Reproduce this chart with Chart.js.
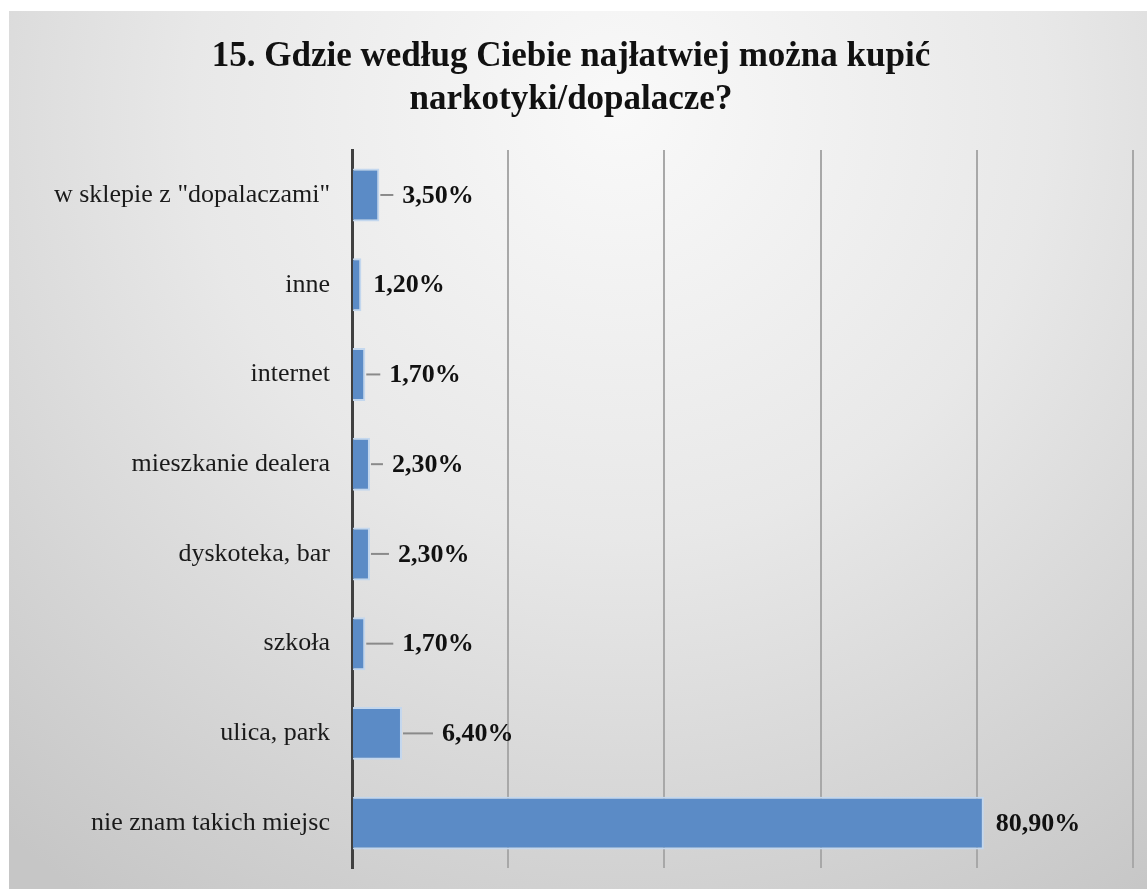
<!DOCTYPE html>
<html>
<head>
<meta charset="utf-8">
<script src="https://cdn.jsdelivr.net/npm/chart.js@4/dist/chart.umd.min.js"></script>
<style>
	html, body { margin: 0; padding: 0; background: #fff; }
	canvas { display: block; }
</style>
</head>
<body>
<canvas id="chart" width="1147" height="889"></canvas>
<script>
const titleLines = ['15. Gdzie według Ciebie najłatwiej można kupić', 'narkotyki/dopalacze?'];
const categories = [
	'w sklepie z "dopalaczami"',
	'inne',
	'internet',
	'mieszkanie dealera',
	'dyskoteka, bar',
	'szkoła',
	'ulica, park',
	'nie znam takich miejsc',
];
const percentages = [3.5, 1.2, 1.7, 2.3, 2.3, 1.7, 6.4, 80.9];
const xTicks = [0, 20, 40, 60, 80, 100];

// pixel gap between bar end and its label (labels were moved by hand in the original)
const labelGap = [23, 12, 24, 22, 28, 37, 40, 12];

const serif = '"Liberation Serif", "Times New Roman", serif';

const backdrop = {
	id: 'backdrop',
	beforeDraw(chart) {
		const { ctx, width, height } = chart;
		ctx.save();
		ctx.fillStyle = '#ffffff';
		ctx.fillRect(0, 0, width, height);
		const g = ctx.createRadialGradient(620, 110, 0, 620, 110, 950);
		g.addColorStop(0, '#f9f9f9');
		g.addColorStop(0.45, '#e8e8e8');
		g.addColorStop(1, '#c6c6c6');
		ctx.fillStyle = g;
		ctx.fillRect(9, 11, width - 9, height - 11);
		ctx.restore();
	},
};

const valueLabels = {
	id: 'valueLabels',
	afterDatasetsDraw(chart) {
		const { ctx } = chart;
		const meta = chart.getDatasetMeta(0);
		ctx.save();
		ctx.font = 'bold 26px ' + serif;
		ctx.fillStyle = '#111';
		ctx.textBaseline = 'middle';
		ctx.textAlign = 'left';
		meta.data.forEach((bar, i) => {
			const gap = labelGap[i];
			const end = bar.x;
			if (gap > 15) {
				ctx.strokeStyle = '#8a8a8a';
				ctx.lineWidth = 2;
				ctx.beginPath();
				ctx.moveTo(end + 1, bar.y);
				ctx.lineTo(end + gap - 9, bar.y);
				ctx.stroke();
			}
			const txt = percentages[i].toFixed(2).replace('.', ',') + '%';
			ctx.fillText(txt, end + gap, bar.y + 1);
		});
		ctx.restore();
	},
};

new Chart('chart', {
	type: 'bar',
	data: {
		labels: categories,
		datasets: [
			{
				data: percentages,
				backgroundColor: '#5b8bc6',
				borderColor: '#c3d7ee',
				borderWidth: 2,
				borderSkipped: 'start',
				categoryPercentage: 1,
				barPercentage: 0.59,
			},
		],
	},
	options: {
		indexAxis: 'y',
		responsive: false,
		animation: false,
		devicePixelRatio: 1,
		layout: {
			padding: { top: 11, left: 9, right: 14, bottom: 21 },
		},
		scales: {
			x: {
				min: xTicks[0],
				max: xTicks[xTicks.length - 1],
				afterBuildTicks: (scale) => {
					scale.ticks = xTicks.map((v) => ({ value: v }));
				},
				afterFit: (scale) => {
					scale.height = 0;
				},
				ticks: { display: false },
				grid: { color: '#a8a8a8', lineWidth: 2, drawTicks: false },
				border: { display: false },
			},
			y: {
				afterFit: (scale) => {
					scale.width = 343;
					scale.paddingTop = 0;
					scale.paddingBottom = 0;
				},
				ticks: {
					padding: 22,
					color: '#1a1a1a',
					font: { family: serif, size: 26 },
				},
				grid: { display: false, drawTicks: false },
				border: { display: true, color: '#404040', width: 3 },
			},
		},
		plugins: {
			legend: { display: false },
			tooltip: { enabled: false },
			title: {
				display: true,
				text: titleLines,
				color: '#111',
				font: { family: serif, size: 35, weight: 'bold', lineHeight: 1.23 },
				padding: { top: 24, bottom: 29 },
			},
		},
	},
	plugins: [backdrop, valueLabels],
});
</script>
</body>
</html>
